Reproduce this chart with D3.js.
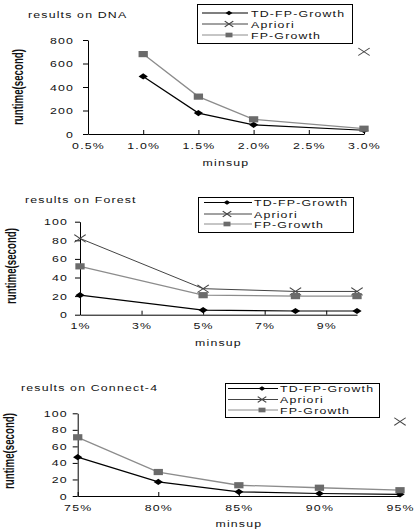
<!DOCTYPE html>
<html>
<head>
<meta charset="utf-8">
<script src="https://cdn.jsdelivr.net/npm/d3@7"></script>
<style>
  body { margin: 0; background: white; }
  svg { display: block; }
  text { font-family: "Liberation Sans", Arial, sans-serif; fill: #111; }
</style>
</head>
<body>
<svg id="chart" width="415" height="531"></svg>
<script>
// series names, same in all three panels
var seriesNames = ["TD-FP-Growth", "Apriori", "FP-Growth"];

// DNA panel
var dnaTickValues = [0.5, 1.0, 1.5, 2.0, 2.5, 3.0];
var dnaTickLabels = ["0.5%", "1.0%", "1.5%", "2.0%", "2.5%", "3.0%"];
var dnaMinsup = [1.0, 1.5, 2.0, 3.0];
var dnaTD = [490, 178, 78, 32];
var dnaApriori = [null, null, null, 700];
var dnaFP = [680, 318, 125, 45];
var dnaYTicks = [0, 200, 400, 600, 800];

// Forest panel
var forestTickValues = [1, 3, 5, 7, 9];
var forestTickLabels = ["1%", "3%", "5%", "7%", "9%"];
var forestMinsup = [1, 5, 8, 10];
var forestTD = [21, 5, 4, 4];
var forestApriori = [82, 28, 25, 25];
var forestFP = [52, 21, 20, 20];
var forestYTicks = [0, 20, 40, 60, 80, 100];

// Connect-4 panel
var c4TickValues = [75, 80, 85, 90, 95];
var c4TickLabels = ["75%", "80%", "85%", "90%", "95%"];
var c4Minsup = [75, 80, 85, 90, 95];
var c4TD = [47, 17, 5, 3, 2];
var c4Apriori = [null, null, null, null, 90];
var c4FP = [71, 29, 13, 10, 7];
var c4YTicks = [0, 20, 40, 60, 80, 100];

var SX = 1.3;      // the picture is stretched sideways, so text is too
var MSX = 1.5;     // markers look stretched as well
var FONT = 9.5;
var SPACING = 0.9; // letters sit far apart

var svg = d3.select("#chart");

// marker shapes, before the sideways stretch
function markerPath(kind, s) {
    if (kind === "diamond") return "M0," + (-s) + "L" + s + ",0L0," + s + "L" + (-s) + ",0Z";
    if (kind === "square") return "M" + (-s) + "," + (-s) + "H" + s + "V" + s + "H" + (-s) + "Z";
    return "M" + (-s) + "," + (-s) + "L" + s + "," + s + "M" + (-s) + "," + s + "L" + s + "," + (-s);
}

var styles = [
    { line: "#000", width: 1.2, marker: "diamond", fill: "#000", stroke: "none", size: 3.1 },
    { line: "#444", width: 1, marker: "x", fill: "none", stroke: "#444", size: 3.8 },
    { line: "#8c8c8c", width: 1.3, marker: "square", fill: "#6b6b6b", stroke: "none", size: 3.1 }
];

function stretchedText(g, x, y, str, anchor) {
    return g.append("text")
        .attr("transform", "translate(" + x + "," + y + ") scale(" + SX + ",1)")
        .attr("text-anchor", anchor || "start")
        .style("font-size", FONT + "px")
        .style("letter-spacing", SPACING + "px")
        .text(str);
}

function drawMarker(g, kind, x, y, st, scale) {
    var s = st.size * (scale || 1);
    g.append("path")
        .attr("transform", "translate(" + x + "," + y + ") scale(" + MSX + ",1)")
        .attr("d", markerPath(kind, s))
        .attr("fill", st.fill)
        .attr("stroke", st.stroke)
        .attr("stroke-width", kind === "x" ? 0.8 : 0);
}

function styleTickText(sel) {
    sel.style("font-size", FONT + "px")
        .style("letter-spacing", SPACING + "px")
        .style("font-family", "Liberation Sans, Arial, sans-serif")
        .attr("fill", "#111");
}

function drawPanel(cfg) {
    var g = svg.append("g");

    var x = d3.scaleLinear().domain(cfg.xDomain).range([cfg.x0, cfg.x1]);
    var y = d3.scaleLinear().domain([0, cfg.yMax]).range([cfg.yBottom, cfg.yTop]);

    // y axis
    var yAxis = g.append("g")
        .attr("transform", "translate(" + cfg.x0 + ",0)")
        .call(d3.axisLeft(y).tickValues(cfg.yTicks).tickSize(5).tickSizeOuter(0));
    yAxis.selectAll("text")
        .attr("x", -cfg.yLabelGap / SX)
        .attr("transform", "scale(" + SX + ",1)")
        .call(styleTickText);

    // x axis, ticks point inward
    var xAxis = g.append("g")
        .attr("transform", "translate(0," + cfg.yBottom + ")")
        .call(d3.axisBottom(x).tickValues(cfg.xTicks)
            .tickFormat(function(d, i) { return cfg.xLabels[i]; })
            .tickSizeInner(-4).tickSizeOuter(0));
    xAxis.selectAll("text")
        .attr("transform", "scale(" + SX + ",1)")
        .attr("dy", "0.71em")
        .attr("y", 8)
        .call(styleTickText);
    g.selectAll(".domain").attr("stroke", "#000").attr("stroke-width", 1);

    // series lines and markers
    cfg.series.forEach(function(vals, si) {
        var st = styles[si];
        var pts = cfg.minsup.map(function(m, i) { return { m: m, v: vals[i] }; });
        var line = d3.line()
            .defined(function(d) { return d.v !== null; })
            .x(function(d) { return x(d.m); })
            .y(function(d) { return y(d.v); });
        g.append("path")
            .datum(pts)
            .attr("fill", "none")
            .attr("stroke", st.line)
            .attr("stroke-width", st.width)
            .attr("d", line);
    });
    cfg.series.forEach(function(vals, si) {
        var st = styles[si];
        cfg.minsup.forEach(function(m, i) {
            if (vals[i] === null) return;
            drawMarker(g, st.marker, x(m), y(vals[i]), st);
        });
    });

    // title and axis names
    stretchedText(g, cfg.titleX, cfg.titleY, cfg.title, "start");
    stretchedText(g, (cfg.x0 + cfg.x1) / 2, cfg.minsupY, "minsup", "middle");
    g.append("text")
        .attr("transform", "translate(" + cfg.yNameX + "," + cfg.yNameY + ") scale(1.5,1) rotate(-90)")
        .attr("text-anchor", "middle")
        .style("font-size", "9.8px")
        .style("font-weight", "bold")
        .attr("textLength", 76)
        .attr("lengthAdjust", "spacingAndGlyphs")
        .text("runtime(second)");

    // legend
    var L = cfg.legend;
    g.append("rect")
        .attr("x", L.x0 + 0.5).attr("y", L.y0 + 0.5)
        .attr("width", L.x1 - L.x0).attr("height", L.y1 - L.y0)
        .attr("fill", "white").attr("stroke", "#000").attr("stroke-width", 1);
    seriesNames.forEach(function(name, si) {
        var st = styles[si];
        var ry = L.rows[si];
        g.append("line")
            .attr("x1", L.lx0).attr("x2", L.lx1)
            .attr("y1", ry).attr("y2", ry)
            .attr("stroke", st.line).attr("stroke-width", si === 0 ? 1.2 : 1);
        drawMarker(g, st.marker, L.mx, ry, st, 0.75);
        stretchedText(g, L.tx, ry + 3.5, name, "start");
    });
}

drawPanel({
    title: "results on DNA", titleX: 28, titleY: 17.5,
    xDomain: [0.5, 3.0], x0: 88, x1: 364,
    yMax: 800, yTop: 40, yBottom: 134, yTicks: dnaYTicks, yLabelGap: 14,
    xTicks: dnaTickValues, xLabels: dnaTickLabels,
    minsup: dnaMinsup, series: [dnaTD, dnaApriori, dnaFP],
    minsupY: 166, yNameX: 23, yNameY: 87,
    legend: { x0: 197, y0: 4, x1: 352, y1: 43, lx0: 202, lx1: 248, mx: 229, tx: 251, rows: [13, 24, 35] }
});

drawPanel({
    title: "results on Forest", titleX: 25, titleY: 202.5,
    xDomain: [1, 10], x0: 80, x1: 357,
    yMax: 100, yTop: 221.7, yBottom: 314.7, yTicks: forestYTicks, yLabelGap: 12,
    xTicks: forestTickValues, xLabels: forestTickLabels,
    minsup: forestMinsup, series: [forestTD, forestApriori, forestFP],
    minsupY: 346, yNameX: 16, yNameY: 266,
    legend: { x0: 198, y0: 197, x1: 353, y1: 232, lx0: 204, lx1: 252, mx: 227, tx: 254, rows: [202.5, 214, 224] }
});

drawPanel({
    title: "results on Connect-4", titleX: 21, titleY: 390.5,
    xDomain: [75, 95], x0: 77.7, x1: 400,
    yMax: 100, yTop: 413.3, yBottom: 496, yTicks: c4YTicks, yLabelGap: 10,
    xTicks: c4TickValues, xLabels: c4TickLabels,
    minsup: c4Minsup, series: [c4TD, c4Apriori, c4FP],
    minsupY: 527, yNameX: 14, yNameY: 451,
    legend: { x0: 225, y0: 383, x1: 379, y1: 417, lx0: 228, lx1: 278, mx: 262, tx: 280, rows: [388.5, 399.5, 410] }
});
</script>
</body>
</html>
